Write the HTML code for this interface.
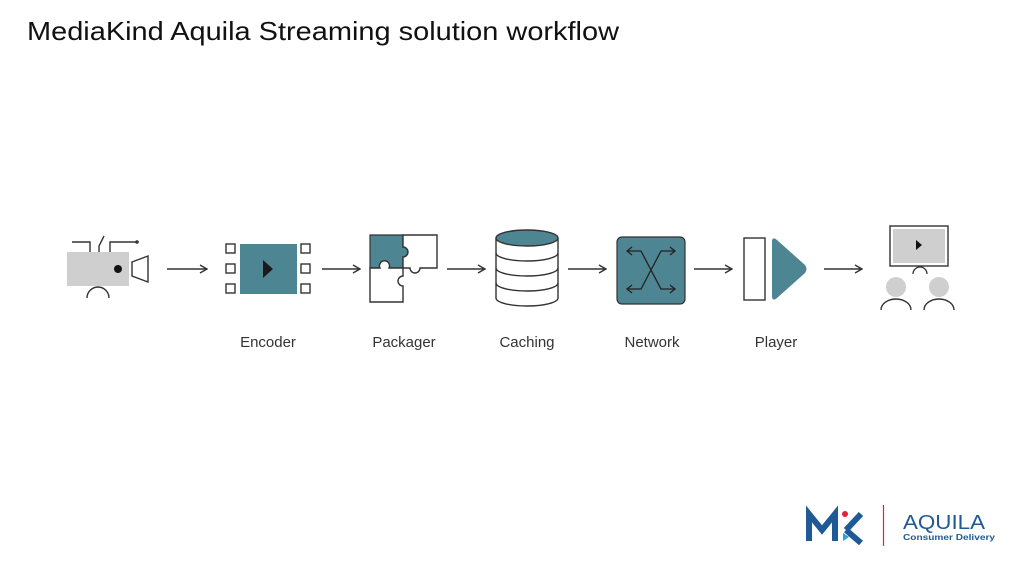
<!DOCTYPE html>
<html><head><meta charset="utf-8"><style>
html,body{margin:0;padding:0;background:#fff;width:1024px;height:576px;overflow:hidden}
svg{display:block}
text{font-family:"Liberation Sans",sans-serif}
</style></head><body>
<svg width="1024" height="576" viewBox="0 0 1024 576" xmlns="http://www.w3.org/2000/svg">
<defs>
<marker id="ah" markerWidth="10" markerHeight="10" refX="9" refY="5" orient="auto" markerUnits="userSpaceOnUse">
<path d="M2,1 L9,5 L2,9" fill="none" stroke="#333" stroke-width="1.4"/></marker>
</defs>
<text x="27" y="40" font-size="26" fill="#111" textLength="592" lengthAdjust="spacingAndGlyphs">MediaKind Aquila Streaming solution workflow</text>

<g stroke="#333" stroke-width="1.4" fill="none">
<line x1="167" y1="269" x2="207" y2="269" marker-end="url(#ah)"/>
<line x1="322" y1="269" x2="360" y2="269" marker-end="url(#ah)"/>
<line x1="447" y1="269" x2="485" y2="269" marker-end="url(#ah)"/>
<line x1="568" y1="269" x2="606" y2="269" marker-end="url(#ah)"/>
<line x1="694" y1="269" x2="732" y2="269" marker-end="url(#ah)"/>
<line x1="824" y1="269" x2="862" y2="269" marker-end="url(#ah)"/>
</g>

<!-- camera -->
<rect x="67" y="252" width="62" height="34" fill="#cfcfcf"/>
<circle cx="118" cy="269" r="4" fill="#111"/>
<path d="M132,262 L148,256 L148,282 L132,276 Z" fill="none" stroke="#333" stroke-width="1.4"/>
<path d="M72,242 H90 V252 M99,252 V246 L104,236 M110,252 V242 H137" fill="none" stroke="#333" stroke-width="1.4"/>
<circle cx="137" cy="242" r="1.8" fill="#333"/>
<path d="M87,298 A11,11 0 0 1 109,298" fill="none" stroke="#333" stroke-width="1.4"/>

<!-- encoder -->
<rect x="240" y="244" width="57" height="50" fill="#4e8593"/>
<path d="M263,260 L273,269 L263,278 Z" fill="#1a1a1a"/>
<g fill="none" stroke="#333" stroke-width="1.4">
<rect x="226" y="244" width="9" height="9"/><rect x="226" y="264" width="9" height="9"/><rect x="226" y="284" width="9" height="9"/>
<rect x="301" y="244" width="9" height="9"/><rect x="301" y="264" width="9" height="9"/><rect x="301" y="284" width="9" height="9"/>
</g>

<!-- packager -->
<path d="M370,235 H403 V247 A5,5 0 1 1 403,257 V268 H389 A5,5 0 1 0 380,268 H370 Z" fill="#4e8593" stroke="#333" stroke-width="1.2"/>
<path d="M403,235 H437 V268 H420 A5,5 0 1 1 410,268 H403 V257 A5,5 0 1 0 403,247 Z" fill="#fff" stroke="#333" stroke-width="1.4"/>
<path d="M370,268 H380 A5,5 0 1 1 389,268 H403 V276 A5,5 0 1 0 403,286 V302 H370 Z" fill="#fff" stroke="#333" stroke-width="1.4"/>

<!-- caching -->
<g stroke="#333" stroke-width="1.4">
<path d="M496,238 V298 A31,8 0 0 0 558,298 V238" fill="#fff"/>
<path d="M496,253 A31,8 0 0 0 558,253 M496,268 A31,8 0 0 0 558,268 M496,283 A31,8 0 0 0 558,283" fill="none"/>
<ellipse cx="527" cy="238" rx="31" ry="8" fill="#4e8593"/>
</g>

<!-- network -->
<rect x="617" y="237" width="68" height="67" rx="5" fill="#4e8593" stroke="#333" stroke-width="1.2"/>
<g fill="none" stroke="#222" stroke-width="1.3">
<path d="M627,251 H641 L661,289 H675 M627,289 H641 L661,251 H675"/>
<path d="M632,247 L627,251 L632,255 M670,247 L675,251 L670,255 M632,285 L627,289 L632,293 M670,285 L675,289 L670,293"/>
</g>

<!-- player -->
<rect x="744" y="238" width="21" height="62" fill="#fff" stroke="#333" stroke-width="1.4"/>
<path d="M772,242 Q772,236 777,240 L805,265 Q808,269 805,273 L777,298 Q772,302 772,296 Z" fill="#4e8593"/>

<!-- viewers -->
<rect x="890" y="226" width="58" height="40" fill="#fff" stroke="#333" stroke-width="1.4"/>
<rect x="893" y="229" width="52" height="34" fill="#cfcfcf"/>
<path d="M916,240 L922,245 L916,250 Z" fill="#111"/>
<path d="M913,274 A7,7 0 0 1 927,274" fill="none" stroke="#333" stroke-width="1.3"/>
<circle cx="896" cy="287" r="10" fill="#cfcfcf"/>
<circle cx="939" cy="287" r="10" fill="#cfcfcf"/>
<path d="M881,310 A15,11 0 0 1 911,310 M924,310 A15,11 0 0 1 954,310" fill="none" stroke="#333" stroke-width="1.4"/>

<g font-size="15" fill="#333" text-anchor="middle">
<text x="268" y="347">Encoder</text>
<text x="404" y="347">Packager</text>
<text x="527" y="347">Caching</text>
<text x="652" y="347">Network</text>
<text x="776" y="347">Player</text>
</g>

<!-- logo -->
<g fill="none" stroke="#1f5a96" stroke-width="6" stroke-linejoin="miter">
<path d="M809,541 V514 L822,530 L835,514 V541"/>
<path d="M846,530 L861,514 M846,530 L861,543"/>
</g>
<circle cx="845" cy="514" r="3" fill="#e0213f"/>
<path d="M843,533 L849,537 L843,541 Z" fill="#29a3d9"/>
<line x1="883.5" y1="505" x2="883.5" y2="546" stroke="#e0213f" stroke-width="1.2"/>
<text x="903" y="529" font-size="20" fill="#1f5a96" textLength="82" lengthAdjust="spacingAndGlyphs">AQUILA</text>
<text x="903" y="540" font-size="8" fill="#1f5a96" font-weight="bold" textLength="92" lengthAdjust="spacingAndGlyphs">Consumer Delivery</text>
</svg>
</body></html>
